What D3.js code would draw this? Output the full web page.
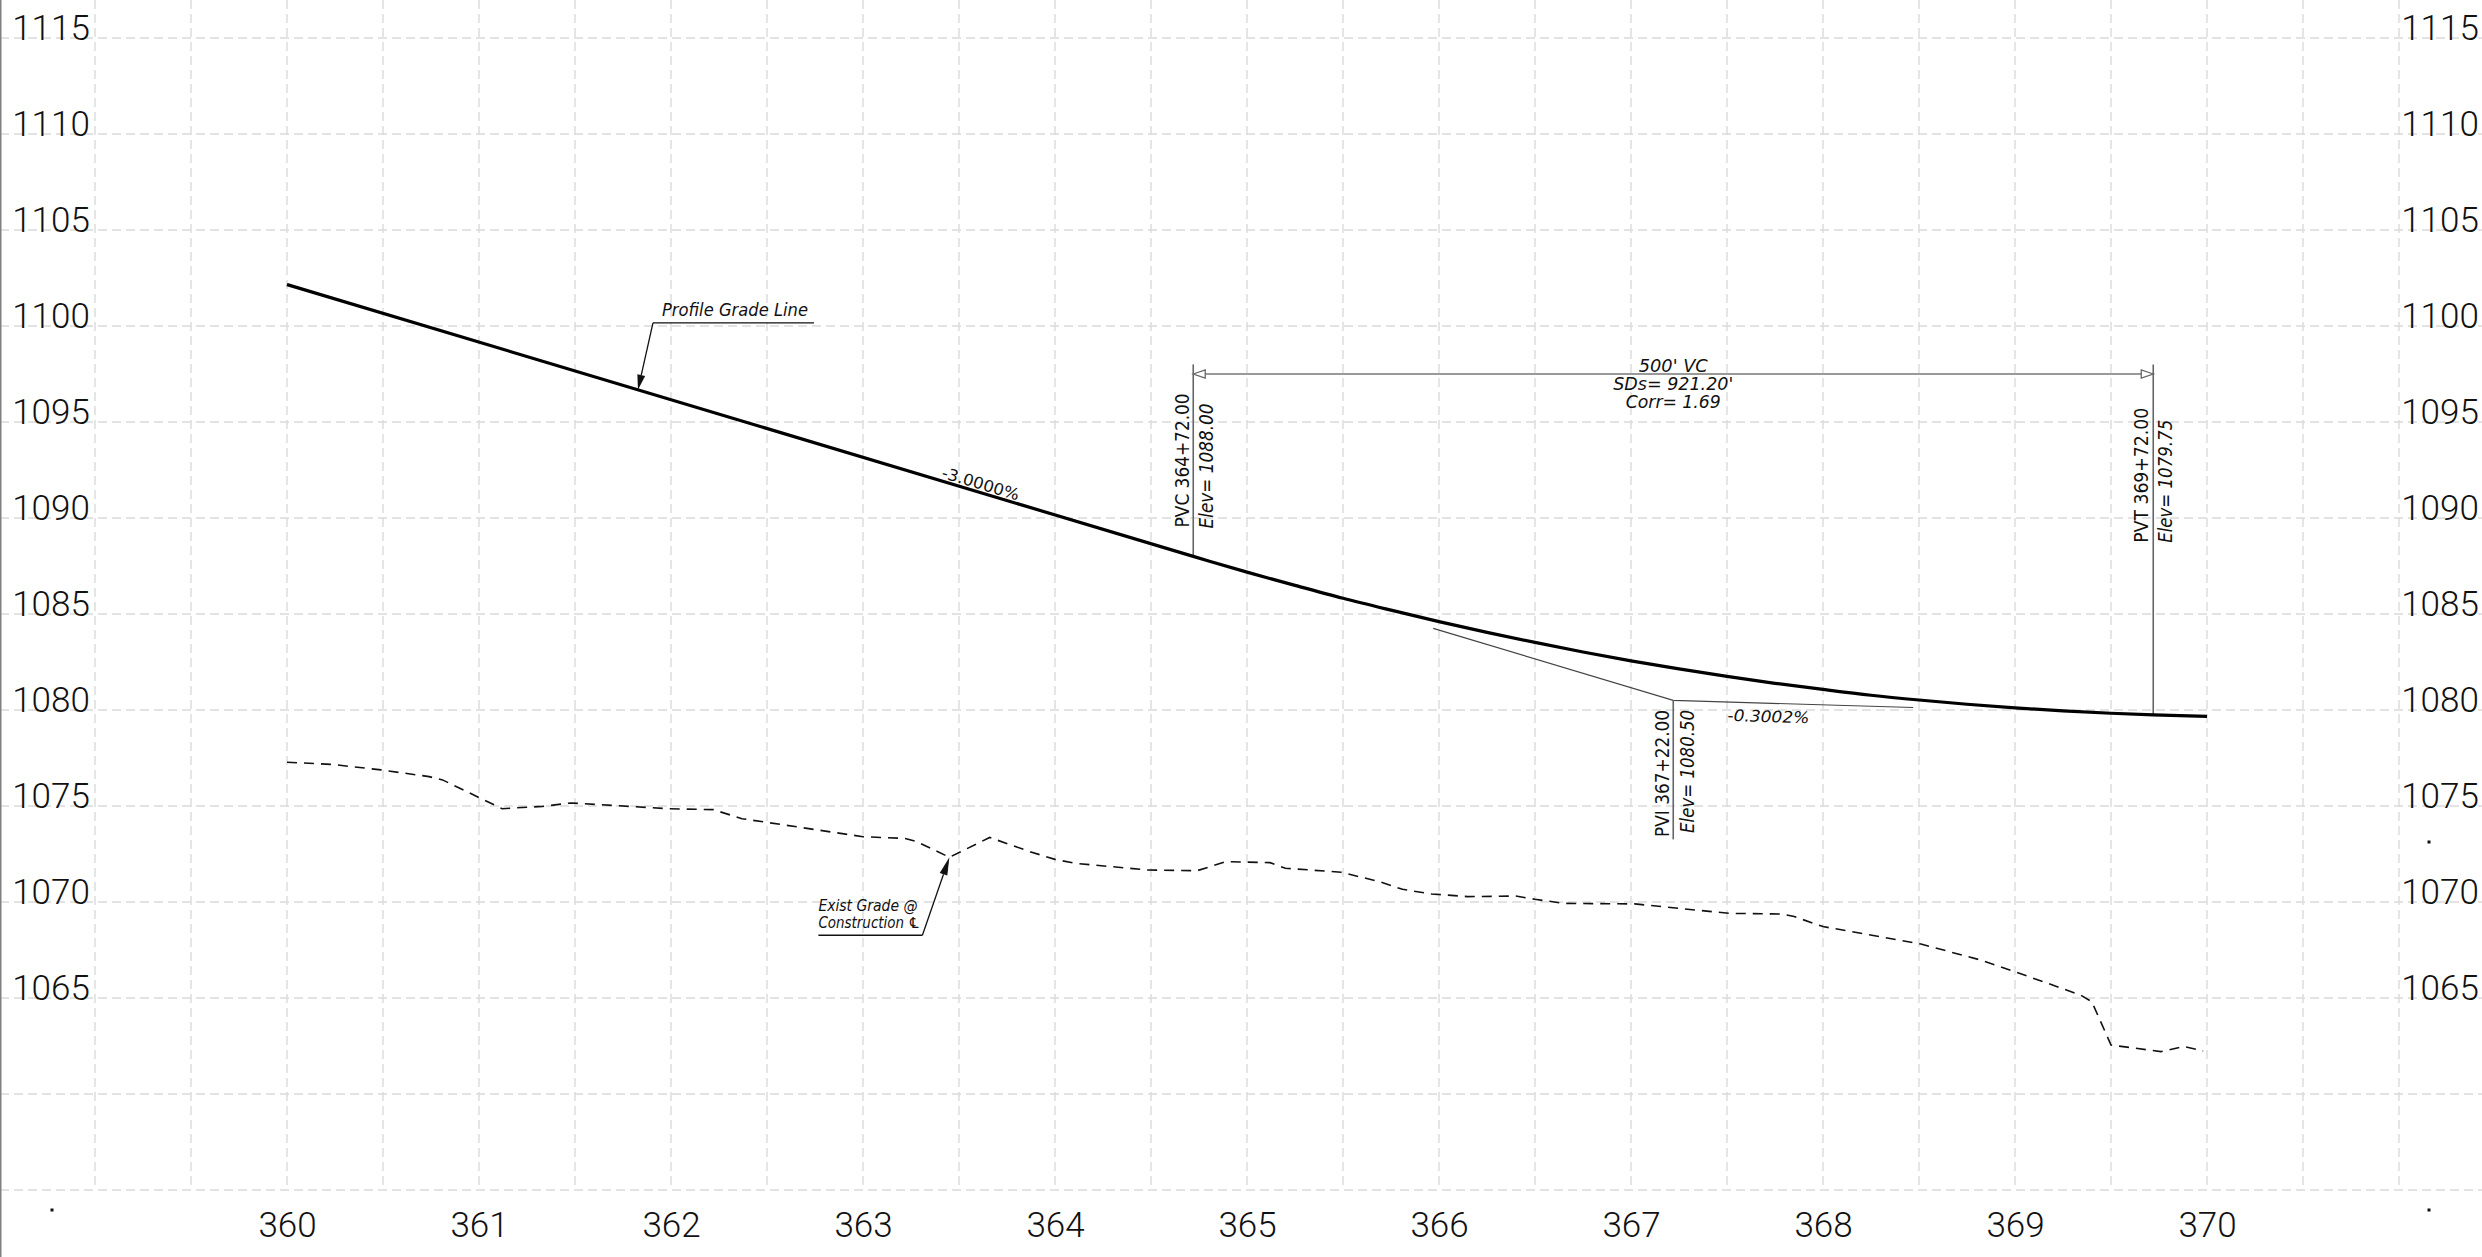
<!DOCTYPE html>
<html>
<head>
<meta charset="utf-8">
<script src="https://cdn.jsdelivr.net/npm/d3@7"></script>
<style>
    body { margin: 0; background: #fff; }
    svg { display: block; }
    .tick-label { font-family: Roboto, "DejaVu Sans Condensed", sans-serif; font-weight: 300; font-size: 35px; fill: #111; }
    .note { font-family: "DejaVu Sans Condensed", "DejaVu Sans", sans-serif; font-stretch: condensed; fill: #111; }
    .it { font-style: italic; }
</style>
</head>
<body>
<svg id="profile"></svg>
<script>
// tick labels
const stationTicks = [360, 361, 362, 363, 364, 365, 366, 367, 368, 369, 370];
const elevTicks = [1115, 1110, 1105, 1100, 1095, 1090, 1085, 1080, 1075, 1070, 1065];

// proposed profile grade line (station in 100 ft, elevation in ft)
const profileSta = [360.00, 364.72, 365.00, 365.25, 365.50, 365.75, 366.00, 366.25, 366.50, 366.75,
    367.00, 367.25, 367.50, 367.75, 368.00, 368.25, 368.50, 368.75, 369.00, 369.25, 369.50, 369.72, 370.00];
const profileElev = [1102.16, 1088.00, 1087.18, 1086.49, 1085.82, 1085.20, 1084.60, 1084.04, 1083.52, 1083.02,
    1082.56, 1082.14, 1081.75, 1081.39, 1081.07, 1080.77, 1080.52, 1080.30, 1080.11, 1079.95, 1079.83, 1079.75, 1079.67];

// tangent lines through the PVI
const tangentSta = [365.97, 367.22, 368.47];
const tangentElev = [1084.25, 1080.50, 1080.13];

// existing ground at construction centerline
const groundSta = [360.00, 360.24, 360.49, 360.74, 360.81, 361.12, 361.33, 361.48, 361.98, 362.22,
    362.37, 363.00, 363.22, 363.28, 363.45, 363.66, 363.87, 364.00, 364.11, 364.48,
    364.74, 364.89, 365.12, 365.20, 365.49, 365.69, 365.81, 365.96, 366.15, 366.40,
    366.50, 366.65, 367.02, 367.51, 367.79, 367.85, 368.00, 368.51, 368.82, 369.00,
    369.34, 369.40, 369.50, 369.76, 369.88, 369.98];
const groundElev = [1077.28, 1077.16, 1076.88, 1076.53, 1076.36, 1074.86, 1074.98, 1075.16, 1074.86, 1074.81,
    1074.34, 1073.40, 1073.31, 1073.14, 1072.33, 1073.36, 1072.62, 1072.22, 1072.01, 1071.67,
    1071.63, 1072.10, 1072.05, 1071.76, 1071.55, 1071.06, 1070.66, 1070.42, 1070.28, 1070.31,
    1070.14, 1069.93, 1069.90, 1069.41, 1069.37, 1069.24, 1068.72, 1067.81, 1066.98, 1066.37,
    1065.16, 1064.81, 1062.55, 1062.21, 1062.47, 1062.24];

// vertical curve points
const pvc = { sta: 364.72, elev: 1088.00, label: "PVC  364+72.00", elevLabel: "Elev=  1088.00" };
const pvi = { sta: 367.22, elev: 1080.50, label: "PVI  367+22.00", elevLabel: "Elev=  1080.50" };
const pvt = { sta: 369.72, elev: 1079.75, label: "PVT  369+72.00", elevLabel: "Elev=  1079.75" };
const curveLabels = ["500' VC", "SDs=  921.20'", "Corr=  1.69"];
const gradeLabels = ["-3.0000%", "-0.3002%"];

const width = 2482, height = 1257;
const svg = d3.select("#profile").attr("width", width).attr("height", height);

const x = d3.scaleLinear().domain([360, 370]).range([287, 2207]);
const y = d3.scaleLinear().domain([1055, 1115]).range([1190, 38]);
const profileAt = d3.scaleLinear().domain(profileSta).range(profileElev);

// grid
const grid = svg.append("g")
    .attr("stroke", "#dadada")
    .attr("stroke-width", 1.4)
    .attr("stroke-dasharray", "9,5");
grid.selectAll(".vgrid")
    .data(d3.range(359, 371.01, 0.5))
    .join("line")
    .attr("x1", d => x(d)).attr("x2", d => x(d))
    .attr("y1", 0).attr("y2", y(1055));
grid.selectAll(".hgrid")
    .data(d3.range(1055, 1115.01, 5))
    .join("line")
    .attr("x1", 0).attr("x2", width)
    .attr("y1", d => y(d)).attr("y2", d => y(d));

// left border
svg.append("line")
    .attr("x1", 0.75).attr("x2", 0.75).attr("y1", 0).attr("y2", height)
    .attr("stroke", "#808080").attr("stroke-width", 1.5);

// axes
function styleAxis(g, vertical) {
    g.select(".domain").remove();
    g.selectAll("text")
        .attr("class", "tick-label")
        .attr("x", 0)
        .attr("y", 0)
        .attr("dy", vertical ? 1 : 0)
        .attr("text-anchor", "middle");
}
svg.append("g")
    .attr("transform", "translate(51,0)")
    .call(d3.axisLeft(y).tickValues(elevTicks).tickSize(0).tickFormat(d3.format("d")))
    .call(g => styleAxis(g, true));
svg.append("g")
    .attr("transform", "translate(2440,0)")
    .call(d3.axisRight(y).tickValues(elevTicks).tickSize(0).tickFormat(d3.format("d")))
    .call(g => styleAxis(g, true));
svg.append("g")
    .attr("transform", "translate(0,1237)")
    .call(d3.axisBottom(x).tickValues(stationTicks).tickSize(0).tickFormat(d3.format("d")))
    .call(g => styleAxis(g, false));

// stray cad points
svg.selectAll(".dot")
    .data([[52, 1210], [2429, 1210], [2429, 842]])
    .join("rect")
    .attr("x", d => d[0] - 1.5).attr("y", d => d[1] - 1.5)
    .attr("width", 3).attr("height", 3)
    .attr("fill", "#111");

// existing ground
const groundLine = d3.line()
    .x((d, i) => x(groundSta[i]))
    .y(d => y(d));
svg.append("path")
    .attr("d", groundLine(groundElev))
    .attr("fill", "none")
    .attr("stroke", "#111")
    .attr("stroke-width", 1.6)
    .attr("stroke-dasharray", "10,7");

// tangents
const tangentLine = d3.line()
    .x((d, i) => x(tangentSta[i]))
    .y(d => y(d));
svg.append("path")
    .attr("d", tangentLine(tangentElev))
    .attr("fill", "none")
    .attr("stroke", "#444")
    .attr("stroke-width", 1.2);

// station lines at PVC, PVT, PVI
const dimY = y(1097.5);
const topY = y(1098.0);
[[pvc, topY, y(pvc.elev)], [pvt, topY, y(pvt.elev)], [pvi, y(pvi.elev), y(pvi.elev) + 139]].forEach(([p, y1, y2]) => {
    svg.append("line")
        .attr("x1", x(p.sta)).attr("x2", x(p.sta))
        .attr("y1", y1).attr("y2", y2)
        .attr("stroke", "#666").attr("stroke-width", 1.6);
});

// profile grade line
const profileLine = d3.line()
    .x((d, i) => x(profileSta[i]))
    .y(d => y(d))
    .curve(d3.curveMonotoneX);
svg.append("path")
    .attr("d", profileLine(profileElev))
    .attr("fill", "none")
    .attr("stroke", "#000")
    .attr("stroke-width", 3.2);

// dimension line with open arrows
svg.append("line")
    .attr("x1", x(pvc.sta)).attr("x2", x(pvt.sta))
    .attr("y1", dimY).attr("y2", dimY)
    .attr("stroke", "#777").attr("stroke-width", 1.6);
[[x(pvc.sta), 1], [x(pvt.sta), -1]].forEach(([tx, dir]) => {
    svg.append("path")
        .attr("d", `M${tx},${dimY} L${tx + dir * 12},${dimY - 4} L${tx + dir * 12},${dimY + 4} Z`)
        .attr("fill", "#fff").attr("stroke", "#666").attr("stroke-width", 1.3);
});
const dimText = [[curveLabels[0], -2.5, 69], [curveLabels[1], 16, 120], [curveLabels[2], 34, 95]];
dimText.forEach(([t, dy, len]) => {
    svg.append("text")
        .attr("class", "note it")
        .attr("x", x(pvi.sta)).attr("y", dimY + dy)
        .attr("text-anchor", "middle")
        .attr("font-size", 17)
        .attr("textLength", len)
        .attr("lengthAdjust", "spacingAndGlyphs")
        .text(t);
});

// rotated station / elevation labels
function vText(tx, ty, str, len, italic) {
    svg.append("text")
        .attr("class", italic ? "note it" : "note")
        .attr("transform", `translate(${tx},${ty}) rotate(-90)`)
        .attr("font-size", 19)
        .attr("textLength", len)
        .attr("lengthAdjust", "spacingAndGlyphs")
        .text(str);
}
vText(x(pvc.sta) - 4, y(pvc.elev) - 29, pvc.label, 134, false);
vText(x(pvc.sta) + 20, y(pvc.elev) - 28, pvc.elevLabel, 125, true);
vText(x(pvt.sta) - 5, y(pvt.elev) - 172, pvt.label, 135, false);
vText(x(pvt.sta) + 19, y(pvt.elev) - 172, pvt.elevLabel, 123, true);
vText(x(pvi.sta) - 4.5, y(pvi.elev) + 136.5, pvi.label, 127, false);
vText(x(pvi.sta) + 20.5, y(pvi.elev) + 132.5, pvi.elevLabel, 123, true);

// grade labels
const a1 = Math.atan2(y(profileAt(364)) - y(profileAt(363)), x(364) - x(363)) * 180 / Math.PI;
svg.append("text")
    .attr("class", "note")
    .attr("transform", `translate(${x(363.6)},${y(profileAt(363.6))}) rotate(${a1})`)
    .attr("dy", -3)
    .attr("text-anchor", "middle")
    .attr("font-size", 16)
    .attr("textLength", 80)
    .attr("lengthAdjust", "spacingAndGlyphs")
    .text(gradeLabels[0]);
const a2 = Math.atan2(y(tangentElev[2]) - y(tangentElev[1]), x(tangentSta[2]) - x(tangentSta[1])) * 180 / Math.PI;
svg.append("text")
    .attr("class", "note it")
    .attr("transform", `translate(${x(pvi.sta) + 54},${y(pvi.elev) + 20.5}) rotate(${a2})`)
    .attr("font-size", 16)
    .attr("textLength", 82)
    .attr("lengthAdjust", "spacingAndGlyphs")
    .text(gradeLabels[1]);

// leader with filled arrowhead
function leader(tip, from, len, half) {
    const dx = from[0] - tip[0], dy = from[1] - tip[1];
    const d = Math.hypot(dx, dy), ux = dx / d, uy = dy / d;
    const bx = tip[0] + ux * len, by = tip[1] + uy * len;
    svg.append("line")
        .attr("x1", from[0]).attr("y1", from[1]).attr("x2", bx).attr("y2", by)
        .attr("stroke", "#111").attr("stroke-width", 1.3);
    svg.append("path")
        .attr("d", `M${tip[0]},${tip[1]} L${bx - uy * half},${by + ux * half} L${bx + uy * half},${by - ux * half} Z`)
        .attr("fill", "#111");
}

// profile grade line callout
const pglTip = [x(361.828), y(profileAt(361.828))];
const pglElbow = [pglTip[0] + 15, pglTip[1] - 67];
leader(pglTip, pglElbow, 15, 4);
svg.append("line")
    .attr("x1", pglElbow[0]).attr("x2", pglElbow[0] + 161)
    .attr("y1", pglElbow[1]).attr("y2", pglElbow[1])
    .attr("stroke", "#111").attr("stroke-width", 1.3);
svg.append("text")
    .attr("class", "note it")
    .attr("x", pglElbow[0] + 9).attr("y", pglElbow[1] - 7)
    .attr("font-size", 18)
    .attr("textLength", 146)
    .attr("lengthAdjust", "spacingAndGlyphs")
    .text("Profile Grade Line");

// existing grade callout
const egTip = [x(groundSta[14]), y(groundElev[14])];
const egElbow = [egTip[0] - 27, egTip[1] + 78];
leader(egTip, egElbow, 18, 4);
svg.append("line")
    .attr("x1", egElbow[0] - 104).attr("x2", egElbow[0])
    .attr("y1", egElbow[1]).attr("y2", egElbow[1])
    .attr("stroke", "#111").attr("stroke-width", 1.3);
[["Exist Grade @", -24, 99], ["Construction \u2104", -7, 102]].forEach(([t, dy, len]) => {
    svg.append("text")
        .attr("class", "note it")
        .attr("x", egElbow[0] - 104).attr("y", egElbow[1] + dy)
        .attr("font-size", 15)
        .attr("textLength", len)
        .attr("lengthAdjust", "spacingAndGlyphs")
        .text(t);
});
</script>
</body>
</html>
